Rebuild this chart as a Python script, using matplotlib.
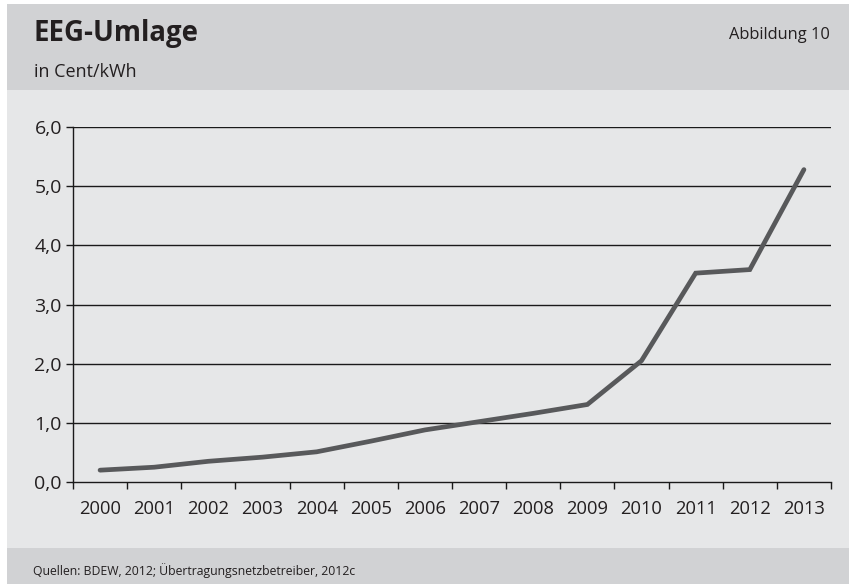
import matplotlib
matplotlib.use("Agg")
import matplotlib.pyplot as plt
import matplotlib.patches as mpatches
import numpy as np

# EEG surcharge, cent per kWh
years = ["2000", "2001", "2002", "2003", "2004", "2005", "2006",
         "2007", "2008", "2009", "2010", "2011", "2012", "2013"]
umlage = [0.20, 0.25, 0.35, 0.42, 0.51, 0.69, 0.88,
          1.02, 1.16, 1.31, 2.05, 3.53, 3.59, 5.28]
y_ticks = [0, 1, 2, 3, 4, 5, 6]
y_labels = ["0,0", "1,0", "2,0", "3,0", "4,0", "5,0", "6,0"]

W, H = 849, 584
BODY = "#e6e7e8"
BAND = "#d1d2d4"
INK = "#231f20"
plt.rcParams["font.family"] = ["Open Sans", "DejaVu Sans"]

fig = plt.figure(figsize=(W / 100, H / 100), dpi=100, facecolor="white")

# background panels in pixel coordinates
bg = fig.add_axes([0, 0, 1, 1])
bg.set_xlim(0, W)
bg.set_ylim(H, 0)
bg.axis("off")
bg.add_patch(mpatches.Rectangle((7, 4), W - 7, H - 4, facecolor=BODY, lw=0))
bg.add_patch(mpatches.Rectangle((7, 4), W - 7, 86, facecolor=BAND, lw=0))
bg.add_patch(mpatches.Rectangle((7, 548), W - 7, H - 548, facecolor=BAND, lw=0))

bg.text(34, 33, "EEG-Umlage", fontsize=19.8, fontweight="bold", color=INK,
        ha="left", va="center")
bg.text(34, 72, "in Cent/kWh", fontsize=13, color=INK, ha="left", va="center")
bg.text(830, 35, "Abbildung 10", fontsize=11.8, color=INK, ha="right", va="center")
bg.text(33, 571, "Quellen: BDEW, 2012; Übertragungsnetzbetreiber, 2012c",
        fontsize=8.8, color=INK, ha="left", va="center")

# line chart
x0, x1, ytop, ybot = 73, 831, 127, 482
ax = fig.add_axes([x0 / W, (H - ybot) / H, (x1 - x0) / W, (ybot - ytop) / H])
ax.patch.set_alpha(0)
x = np.arange(len(years))
ax.set_xlim(-0.5, len(years) - 0.5)
ax.set_ylim(0, 6)

for t in y_ticks[1:]:
    ax.axhline(t, color="#1a1a1a", lw=1.0, zorder=1)

ax.plot(x, umlage, color="#58595b", lw=3.4, solid_capstyle="round",
        solid_joinstyle="miter", zorder=3)

for side in ["top", "right"]:
    ax.spines[side].set_visible(False)
for side in ["left", "bottom"]:
    ax.spines[side].set_color("#1a1a1a")
    ax.spines[side].set_linewidth(1.0)

ax.set_yticks(y_ticks)
ax.set_yticklabels(y_labels, fontsize=14, color=INK)
ax.tick_params(axis="y", direction="out", length=5, width=1, color="#1a1a1a", pad=3)

ax.set_xticks(x)
ax.set_xticklabels(years, fontsize=13.2, color=INK)
ax.tick_params(axis="x", which="major", length=0, pad=13)
ax.set_xticks(np.arange(len(years) + 1) - 0.5, minor=True)
ax.tick_params(axis="x", which="minor", direction="out", length=5, width=1,
               color="#1a1a1a")

fig.savefig("out.png", dpi=100, facecolor=fig.get_facecolor())
